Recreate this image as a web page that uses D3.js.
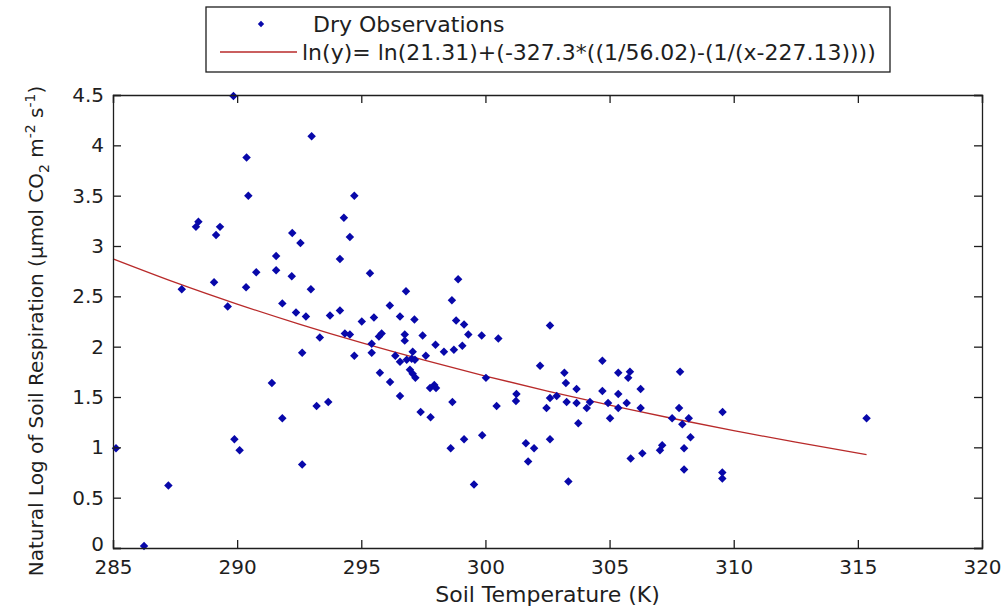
<!DOCTYPE html>
<html>
<head>
<meta charset="utf-8">
<script src="https://cdn.jsdelivr.net/npm/d3@7"></script>
<style>
  html, body { margin: 0; padding: 0; background: #fff; }
  svg { display: block; }
  text { font-family: "DejaVu Sans", "Liberation Sans", Arial, sans-serif; fill: #1e1e1e; }
</style>
</head>
<body>
<svg id="chart" width="1008" height="611"></svg>
<script>
// ---- data ----
const tempK = [
  289.85, 293.0, 290.38, 290.45, 288.44, 288.34, 289.31, 289.15, 292.22, 292.55,
  291.57, 291.57, 290.77, 292.20, 289.07, 287.77, 290.36, 292.97, 289.62, 291.82,
  292.37, 292.77,
  292.62, 291.40, 291.82, 293.2, 289.89, 290.10, 285.12, 292.62, 287.23, 286.25,
  294.72, 294.30, 294.54, 294.14, 295.35, 298.90, 296.80, 298.65, 296.15, 293.74,
  294.14, 295.02, 295.51, 296.56, 297.14, 298.82, 299.14,
  294.34, 294.54, 293.33, 295.82, 295.71, 296.75, 296.75, 297.47, 297.99, 298.33,
  298.73, 299.07, 299.31, 299.85, 300.52, 294.72, 295.42, 295.42, 296.37, 296.56,
  296.83, 297.03, 297.16, 297.07, 297.60, 296.96, 297.07, 297.18, 295.75, 296.16,
  297.77, 297.94, 298.01, 296.56, 298.67, 293.67, 297.39, 297.79, 300.02, 300.45,
  299.87, 299.14, 298.60, 299.54,
  302.60, 302.20, 304.71, 303.18, 303.24, 303.67, 305.35, 305.82, 305.75, 306.25,
  304.71, 305.35, 307.84, 301.25, 301.23, 302.60, 302.87, 302.46, 303.27, 303.67,
  304.21, 304.08, 304.94, 305.35, 305.69, 306.25, 305.02, 303.74, 307.80, 307.52,
  308.19, 307.93, 309.55, 308.26, 301.63, 301.96, 302.60, 301.72, 303.34, 305.85,
  306.32, 307.12, 307.03, 308.0, 308.0, 309.54, 309.54,
  315.35
];
const lnResp = [
  4.49, 4.09, 3.88, 3.50, 3.24, 3.19, 3.19, 3.11, 3.13, 3.03,
  2.90, 2.76, 2.74, 2.70, 2.64, 2.57, 2.59, 2.57, 2.40, 2.43,
  2.34, 2.30,
  1.94, 1.64, 1.29, 1.41, 1.08, 0.97, 0.99, 0.83, 0.62, 0.02,
  3.50, 3.28, 3.09, 2.87, 2.73, 2.67, 2.55, 2.46, 2.41, 2.31,
  2.36, 2.25, 2.29, 2.30, 2.27, 2.26, 2.22,
  2.13, 2.12, 2.09, 2.13, 2.10, 2.12, 2.06, 2.11, 2.02, 1.95,
  1.97, 2.01, 2.12, 2.11, 2.08, 1.91, 1.94, 2.03, 1.91, 1.85,
  1.87, 1.88, 1.87, 1.95, 1.91, 1.77, 1.73, 1.69, 1.74, 1.65,
  1.59, 1.62, 1.59, 1.51, 1.45, 1.45, 1.35, 1.30, 1.69, 1.41,
  1.12, 1.08, 0.99, 0.63,
  2.21, 1.81, 1.86, 1.74, 1.64, 1.58, 1.74, 1.75, 1.69, 1.58,
  1.56, 1.53, 1.75, 1.53, 1.46, 1.49, 1.51, 1.39, 1.45, 1.44,
  1.45, 1.39, 1.44, 1.39, 1.44, 1.39, 1.29, 1.24, 1.39, 1.29,
  1.29, 1.23, 1.35, 1.10, 1.04, 0.99, 1.08, 0.86, 0.66, 0.89,
  0.94, 1.02, 0.97, 0.99, 0.78, 0.75, 0.69,
  1.29
];
// fitted curve
const fitX = [285, 287.5, 290, 292.5, 295, 297.5, 300, 302.5, 305, 307.5, 310, 312.5, 315.35];
const fitY = [2.872, 2.638, 2.423, 2.224, 2.039, 1.868, 1.708, 1.559, 1.420, 1.289, 1.166, 1.051, 0.927];
const xTicks = [285, 290, 295, 300, 305, 310, 315, 320];
const yTicks = [0, 0.5, 1, 1.5, 2, 2.5, 3, 3.5, 4, 4.5];
const legendLabels = ["Dry Observations", "ln(y)= ln(21.31)+(-327.3*((1/56.02)-(1/(x-227.13))))"];

// ---- layout ----
const W = 1008, H = 611;
const plot = { left: 113, right: 982, top: 95, bottom: 548 };
const fsTick = 20, fsXLabel = 22, fsYLabel = 20, fsLegend = 22;
const markerColor = "#0808aa";
const lineColor = "#b82a2a";
const ink = "#1e1e1e";

const svg = d3.select("#chart");
const x = d3.scaleLinear().domain([285, 320]).range([plot.left, plot.right]);
const y = d3.scaleLinear().domain([0, 4.5]).range([plot.bottom, plot.top]);

const diamond = {
  draw(ctx, size) {
    const r = Math.sqrt(size) / 2;
    ctx.moveTo(0, -r); ctx.lineTo(r, 0); ctx.lineTo(0, r); ctx.lineTo(-r, 0); ctx.closePath();
  }
};
const sym = d3.symbol().type(diamond).size(72);

svg.append("rect").attr("width", W).attr("height", H).attr("fill", "#fff");

// curve
const pts = fitX.map((d, i) => [d, fitY[i]]);
svg.append("path")
  .datum(pts)
  .attr("fill", "none")
  .attr("stroke", lineColor)
  .attr("stroke-width", 1.3)
  .attr("d", d3.line().x(d => x(d[0])).y(d => y(d[1])).curve(d3.curveNatural));

// points
const data = tempK.map((d, i) => ({ t: d, v: lnResp[i] }));
svg.append("g").selectAll("path").data(data).join("path")
  .attr("transform", d => `translate(${x(d.t)},${y(d.v)})`)
  .attr("d", sym)
  .attr("fill", markerColor);

// axes (MATLAB-style: ticks inside, box on)
const tickLen = 8;
const axB = svg.append("g").attr("transform", `translate(0,${plot.bottom})`)
  .call(d3.axisBottom(x).tickValues(xTicks).tickSize(-tickLen).tickPadding(12).tickFormat(d3.format("d")));
const axT = svg.append("g").attr("transform", `translate(0,${plot.top})`)
  .call(d3.axisTop(x).tickValues(xTicks).tickSize(-tickLen).tickFormat(""));
const axL = svg.append("g").attr("transform", `translate(${plot.left},0)`)
  .call(d3.axisLeft(y).tickValues(yTicks).tickSize(-tickLen).tickPadding(9).tickFormat(d => String(d)));
const axR = svg.append("g").attr("transform", `translate(${plot.right},0)`)
  .call(d3.axisRight(y).tickValues(yTicks).tickSize(-tickLen).tickFormat(""));
[axB, axT, axL, axR].forEach(g => {
  g.select(".domain").attr("stroke", ink).attr("stroke-width", 1.3);
  g.selectAll(".tick line").attr("stroke", ink).attr("stroke-width", 1.3);
  g.selectAll(".tick text").attr("font-size", fsTick)
    .attr("font-family", "DejaVu Sans, Liberation Sans, sans-serif").attr("fill", ink);
});
// the "0" label sits just above the "285" label, as in the reference
axL.selectAll(".tick text").filter(d => d === 0).attr("dy", "0.1em");

// axis labels
svg.append("text")
  .attr("x", (plot.left + plot.right) / 2).attr("y", 602)
  .attr("text-anchor", "middle").attr("font-size", fsXLabel)
  .text("Soil Temperature (K)");

const yl = svg.append("text")
  .attr("transform", `translate(43,331) rotate(-90)`)
  .attr("text-anchor", "middle").attr("font-size", fsYLabel);
const sub = fsYLabel * 0.7;
yl.append("tspan").text("Natural Log of Soil Respiration (μmol CO");
yl.append("tspan").attr("dy", 6).attr("font-size", sub).text("2");
yl.append("tspan").attr("dy", -6).text(" m");
yl.append("tspan").attr("dy", -8).attr("font-size", sub).text("-2");
yl.append("tspan").attr("dy", 8).text(" s");
yl.append("tspan").attr("dy", -8).attr("font-size", sub).text("-1");
yl.append("tspan").attr("dy", 8).text(")");

// legend (centred above the axes)
const lg = { x0: 206, x1: 890, y0: 7, y1: 72 };
svg.append("rect").attr("x", lg.x0).attr("y", lg.y0)
  .attr("width", lg.x1 - lg.x0).attr("height", lg.y1 - lg.y0)
  .attr("fill", "#fff").attr("stroke", ink).attr("stroke-width", 1.3);
svg.append("path").attr("transform", `translate(261,24)`)
  .attr("d", d3.symbol().type(diamond).size(40)).attr("fill", markerColor);
svg.append("line").attr("x1", 220).attr("x2", 297).attr("y1", 52).attr("y2", 52)
  .attr("stroke", lineColor).attr("stroke-width", 1.3);
svg.append("text").attr("x", 313).attr("y", 32).attr("font-size", fsLegend).text(legendLabels[0]);
svg.append("text").attr("x", 302).attr("y", 60).attr("font-size", fsLegend).text(legendLabels[1]);
</script>
</body>
</html>
